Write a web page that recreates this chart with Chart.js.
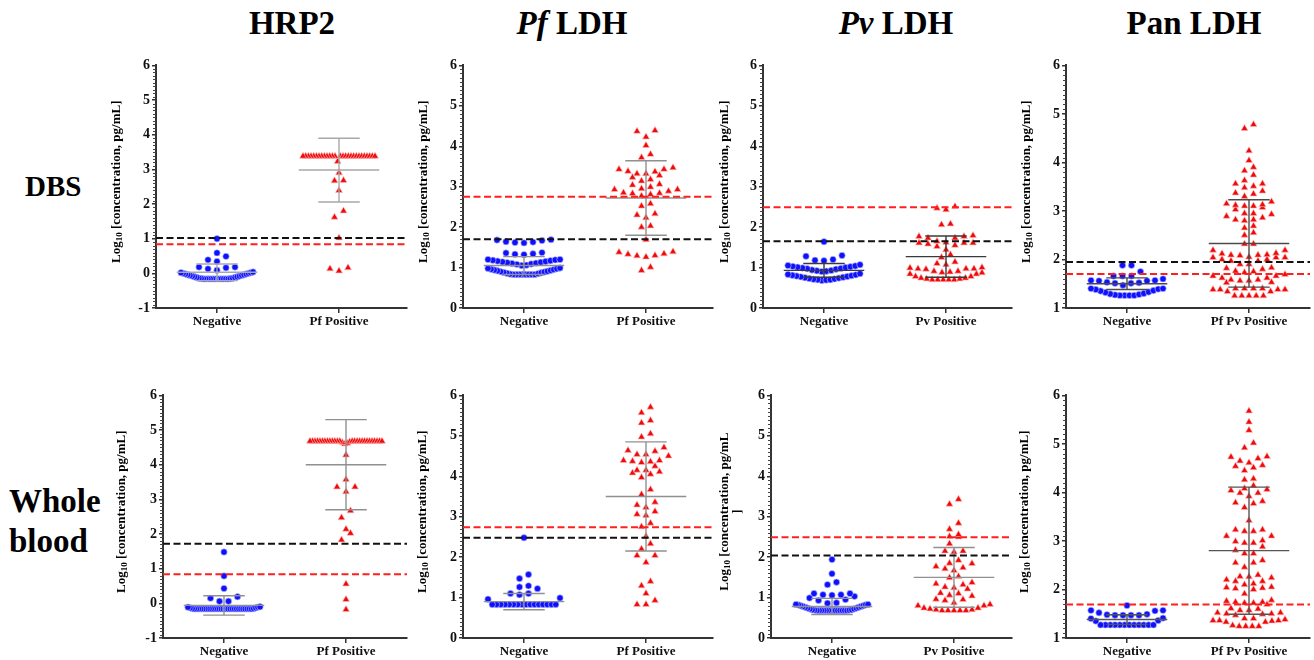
<!DOCTYPE html>
<html>
<head>
<meta charset="utf-8">
<script src="https://cdn.jsdelivr.net/npm/chart.js@4.4.1/dist/chart.umd.min.js"></script>
<style>
  body { margin: 0; width: 1314px; height: 660px; background: #fff; position: relative; overflow: hidden;
         font-family: "Liberation Serif", "Times New Roman", serif; }
  canvas { position: absolute; }
  .lbl { position: absolute; font-weight: bold; line-height: 1; white-space: nowrap; color: #000; }
  .col { font-size: 33px; top: 7px; transform: translateX(-50%); }
</style>
</head>
<body>
<div class="lbl col" style="left:292px">HRP2</div>
<div class="lbl col" style="left:572px"><i>Pf</i> LDH</div>
<div class="lbl col" style="left:896px"><i>Pv</i> LDH</div>
<div class="lbl col" style="left:1194px">Pan LDH</div>
<div class="lbl" style="left:25px;top:172px;font-size:29px">DBS</div>
<div class="lbl" style="left:9px;top:485px;font-size:33px">Whole</div>
<div class="lbl" style="left:9px;top:525px;font-size:33px">blood</div>

<script>
// categories
const catsPf = ['Negative', 'Pf Positive'];
const catsPv = ['Negative', 'Pv Positive'];
const catsPan = ['Negative', 'Pf Pv Positive'];

// DBS - HRP2
const negHrpDbs = [1.0, 0.59, 0.49, 0.39, 0.34, 0.18, 0.18, 0.16, 0.13, 0.09,
  0.04, 0.02, 0.02, 0.0, 0.0, -0.02, -0.02, -0.04, -0.04, -0.06, -0.06, -0.08, -0.08, -0.1, -0.1,
  -0.12, -0.12, -0.14, -0.14, -0.15, -0.15,
  -0.16, -0.16, -0.16, -0.16, -0.16, -0.16, -0.16, -0.16, -0.16, -0.16, -0.16, -0.16];
const posHrpDbs = [3.38, 3.38, 3.38, 3.38, 3.38, 3.38, 3.38, 3.38, 3.38, 3.38, 3.38, 3.38, 3.38, 3.38,
  3.38, 3.38, 3.38, 3.38, 3.38, 3.38, 3.38, 3.38, 3.38, 3.38, 3.38, 3.38, 3.38,
  3.23, 2.9, 2.68, 2.67, 2.39, 1.8, 1.62, 1.02, 0.16, 0.13, 0.07];

// DBS - Pf LDH
const negPfDbs = [1.69, 1.68, 1.67, 1.64, 1.63, 1.62, 1.61,
  1.37, 1.36, 1.34, 1.33, 1.32,
  1.2, 1.2, 1.19, 1.18, 1.17, 1.16, 1.15, 1.14, 1.13, 1.12, 1.11, 1.1, 1.09, 1.08, 1.06, 1.05,
  0.99, 0.98, 0.97, 0.96, 0.95, 0.94, 0.93, 0.92, 0.91, 0.9, 0.89, 0.88, 0.87, 0.86, 0.85, 0.84,
  0.83, 0.83, 0.83, 0.83, 0.83, 0.83, 0.83, 0.83];
const posPfDbs = [4.39, 4.37, 4.23, 4.02, 3.80, 3.72, 3.43, 3.38, 3.32, 3.28, 3.32, 3.37, 3.43, 3.47,
  3.18, 3.06, 3.04, 3.14, 3.23, 2.95, 2.93, 2.84, 2.83, 2.85, 2.89, 2.93, 2.99, 2.77, 2.81,
  2.52, 2.58, 2.30, 2.23, 2.33, 2.03, 2.0, 1.69, 1.38, 1.33, 1.29, 1.26, 1.30, 1.34, 1.39, 0.93, 1.01];

// DBS - Pv LDH
const negPvDbs = [1.64, 1.30, 1.28, 1.20, 1.18, 1.17,
  1.07, 1.05, 1.04, 1.03, 1.02, 1.01, 1.0, 0.99, 0.98, 0.97, 0.96, 0.94, 0.93, 0.92, 0.91, 0.9,
  0.85, 0.83, 0.82, 0.81, 0.8, 0.79, 0.78, 0.77, 0.76, 0.75, 0.74, 0.73, 0.72, 0.71, 0.70, 0.70, 0.69, 0.68];
const posPvDbs = [2.51, 2.43, 2.47, 2.08, 2.06, 1.77, 1.73, 1.73, 1.77, 1.79, 1.62, 1.61, 1.52, 1.58,
  1.44, 1.55, 1.61, 1.61, 1.65, 1.32, 1.25, 1.07, 1.14, 1.10, 1.0, 0.97, 0.96, 0.91, 0.97, 0.97,
  0.99, 0.91, 0.88, 0.84, 0.78, 0.74, 0.72, 0.70, 0.70, 0.70, 0.70, 0.70, 0.72, 0.74, 0.78, 0.84, 0.87, 0.89];

// DBS - Pan LDH
const negPanDbs = [1.88, 1.88, 1.75, 1.66, 1.66, 1.66,
  1.60, 1.57, 1.57, 1.56, 1.56, 1.53, 1.52, 1.51, 1.51, 1.47,
  1.40, 1.40, 1.39, 1.38, 1.36, 1.35, 1.33, 1.32, 1.30, 1.29, 1.28, 1.27, 1.26, 1.26, 1.26, 1.26];
const posPanDbs = [4.78, 4.70, 4.24, 4.04, 3.90, 3.83, 3.74, 3.63, 3.56, 3.56, 3.48, 3.51, 3.41, 3.35,
  3.30, 3.37, 3.15, 3.12, 3.19, 3.13, 3.10, 3.07, 3.10, 3.03, 2.95, 2.93, 2.95, 2.89, 2.86, 2.80,
  2.82, 2.82, 2.69, 2.65, 2.55, 2.50, 2.32, 2.32, 2.19, 2.10, 2.13, 2.09, 2.08, 2.09, 2.12, 2.19,
  2.04, 2.04, 1.97, 2.0, 2.0, 1.97, 2.05, 2.04, 1.90, 1.82, 1.75, 1.90, 1.83, 1.80, 1.73, 1.69,
  1.66, 1.66, 1.76, 1.62, 1.58, 1.56, 1.53, 1.52, 1.56, 1.58, 1.62, 1.40, 1.38, 1.38, 1.40, 1.40,
  1.38, 1.38, 1.40, 1.25, 1.25, 1.25, 1.25, 1.25, 1.34, 1.34];

// Whole blood - HRP2
const negHrpWb = [1.48, 0.79, 0.43, 0.19, 0.15, 0.06, 0.06,
  -0.1, -0.11, -0.11, -0.13, -0.13, -0.15, -0.15,
  -0.16, -0.16, -0.16, -0.16, -0.16, -0.16, -0.16, -0.16, -0.16, -0.16, -0.16, -0.16, -0.16, -0.16,
  -0.16, -0.16, -0.16, -0.16, -0.16, -0.16, -0.16, -0.16, -0.16, -0.16, -0.16, -0.16, -0.16, -0.16];
const posHrpWb = [4.68, 4.68, 4.68, 4.68, 4.68, 4.68, 4.68, 4.68, 4.68, 4.68, 4.68, 4.68, 4.68,
  4.68, 4.68, 4.68, 4.68, 4.68, 4.68, 4.68, 4.68, 4.68, 4.68, 4.68, 4.68, 4.68,
  4.66, 4.64, 4.62, 4.60, 4.28, 3.57, 3.36, 3.36, 3.22, 2.67, 2.47, 2.14, 2.02, 1.83, 0.56, 0.11, -0.18];

// Whole blood - Pf LDH
const negPfWb = [2.48, 1.57, 1.47, 1.29, 1.26, 1.22, 1.10, 1.10, 1.07, 0.99, 0.96,
  0.83, 0.83, 0.83, 0.83, 0.83, 0.83, 0.83, 0.83, 0.83, 0.83, 0.83, 0.83, 0.83, 0.83, 0.83, 0.83];
const posPfWb = [5.71, 5.57, 5.32, 5.38, 5.05, 4.97, 4.64, 4.54, 4.50, 4.62, 4.71, 4.39, 4.36, 4.34,
  4.54, 4.25, 4.37, 4.39, 4.15, 4.08, 3.97, 4.05, 4.11, 4.15, 3.67, 3.55, 3.36, 3.23, 3.29, 3.13,
  3.06, 3.03, 2.84, 2.75, 2.51, 2.33, 2.20, 2.04, 2.04, 1.87, 1.40, 1.29, 1.10, 0.93, 0.83, 0.83];

// Whole blood - Pv LDH
const negPvWb = [1.94, 1.59, 1.38, 1.32, 1.10, 1.10, 1.07, 1.07, 1.06,
  1.03, 0.99, 0.95, 0.93, 0.87, 0.86,
  0.83, 0.83, 0.82, 0.82, 0.8, 0.8, 0.78, 0.78, 0.76, 0.76, 0.74, 0.74, 0.72, 0.72, 0.7, 0.7, 0.69, 0.69,
  0.68, 0.68, 0.68, 0.68, 0.68, 0.68, 0.68, 0.68, 0.68, 0.68, 0.68, 0.68, 0.68, 0.68];
const posPvWb = [3.43, 3.31, 2.84, 2.69, 2.56, 2.50, 2.51, 2.33, 2.15, 2.13, 2.15, 1.92, 1.84, 1.85,
  1.77, 1.74, 1.71, 1.67, 1.52, 1.49, 1.34, 1.26, 1.32, 1.37, 1.21, 1.24, 1.10, 1.04, 1.11, 1.06,
  0.95, 0.93, 0.96, 0.87, 0.80, 0.74, 0.72, 0.70, 0.70, 0.68, 0.68, 0.68, 0.68, 0.68, 0.74, 0.80, 0.83];

// Whole blood - Pan LDH
const negPanWb = [1.67, 1.57, 1.57, 1.56, 1.52, 1.49, 1.48, 1.47, 1.47, 1.47, 1.47,
  1.41, 1.40, 1.36, 1.35,
  1.27, 1.27, 1.27, 1.27, 1.27, 1.27, 1.27, 1.27, 1.27, 1.27, 1.27, 1.27];
const posPanWb = [5.68, 5.45, 5.28, 5.02, 4.92, 4.70, 4.56, 4.51, 4.65, 4.73, 4.74, 4.61, 4.54, 4.45,
  4.26, 4.28, 4.08, 4.04, 3.99, 4.14, 3.92, 3.99, 4.06, 3.79, 3.69, 3.77, 3.82, 3.42, 3.23, 3.20,
  3.20, 3.23, 3.10, 3.01, 2.96, 2.96, 2.88, 2.99, 3.10, 2.81, 2.74, 2.74, 2.60, 2.55, 2.55, 2.46,
  2.30, 2.24, 2.17, 2.10, 2.17, 2.20, 2.27, 2.26, 2.03, 2.0, 2.04, 1.91, 2.12, 2.02, 2.05, 1.76,
  1.74, 1.69, 1.72, 1.72, 1.74, 1.78, 1.61, 1.57, 1.52, 1.50, 1.47, 1.49, 1.50, 1.52, 1.57, 1.60,
  1.40, 1.36, 1.35, 1.33, 1.36, 1.33, 1.36, 1.38, 1.40, 1.26, 1.24, 1.24, 1.24, 1.24];

// mean and SD for [negative, positive]
const statsHrpDbs = [[0.03, 0.24], [2.98, 0.92]];
const statsPfDbs = [[1.05, 0.22], [2.72, 0.92]];
const statsPvDbs = [[0.93, 0.17], [1.27, 0.51]];
const statsPanDbs = [[1.50, 0.12], [2.33, 0.90]];
const statsHrpWb = [[-0.06, 0.28], [4.00, 1.30]];
const statsPfWb = [[0.90, 0.20], [3.50, 1.35]];
const statsPvWb = [[0.78, 0.20], [1.50, 0.74]];
const statsPanWb = [[1.38, 0.10], [2.80, 1.31]];

// cut-off lines [red, black]
const cutHrpDbs = [0.84, 1.02];
const cutPfDbs = [2.75, 1.70];
const cutPvDbs = [2.49, 1.65];
const cutPanDbs = [1.70, 1.95];
const cutHrpWb = [0.84, 1.72];
const cutPfWb = [2.74, 2.48];
const cutPvWb = [2.49, 2.04];
const cutPanWb = [1.69, null];

const CAT_PX = 122;
const FONT = '"Liberation Serif", "Times New Roman", serif';

const panels = [
  { neg: negHrpDbs, pos: posHrpDbs, stats: statsHrpDbs, cut: cutHrpDbs, cats: catsPf, yMin: -1,
    axisX: 156, top: 65, bottom: 308, right: 407, lineCol: '#a8a8a8', titleDx: -39 },
  { neg: negPfDbs, pos: posPfDbs, stats: statsPfDbs, cut: cutPfDbs, cats: catsPf, yMin: 0,
    axisX: 463, top: 65, bottom: 308, right: 713, lineCol: '#909090', titleDx: -39 },
  { neg: negPvDbs, pos: posPvDbs, stats: statsPvDbs, cut: cutPvDbs, cats: catsPv, yMin: 0,
    axisX: 763, top: 65, bottom: 308, right: 1012, lineCol: '#3a3a3a', titleDx: -38 },
  { neg: negPanDbs, pos: posPanDbs, stats: statsPanDbs, cut: cutPanDbs, cats: catsPan, yMin: 1,
    axisX: 1066, top: 65, bottom: 308, right: 1310, lineCol: '#4a4a4a', titleDx: -39 },
  { neg: negHrpWb, pos: posHrpWb, stats: statsHrpWb, cut: cutHrpWb, cats: catsPf, yMin: -1,
    axisX: 163, top: 395, bottom: 638, right: 407, lineCol: '#909090', titleDx: -41 },
  { neg: negPfWb, pos: posPfWb, stats: statsPfWb, cut: cutPfWb, cats: catsPf, yMin: 0,
    axisX: 463, top: 395, bottom: 638, right: 713, lineCol: '#909090', titleDx: -40 },
  { neg: negPvWb, pos: posPvWb, stats: statsPvWb, cut: cutPvWb, cats: catsPv, yMin: 0,
    axisX: 771, top: 395, bottom: 638, right: 1012, lineCol: '#909090', titleDx: -46, split: true },
  { neg: negPanWb, pos: posPanWb, stats: statsPanWb, cut: cutPanWb, cats: catsPan, yMin: 1,
    axisX: 1066, top: 395, bottom: 638, right: 1310, lineCol: '#555555', titleDx: -41 },
];

// GraphPad-like scatter: bin by rows, spread each row around the group centre
function swarm(vals, center, yScale, pxPerCat) {
  const rowH = 7, gap = 9, maxW = 72;
  const pts = vals.map(v => ({ v, py: yScale.getPixelForValue(v) })).sort((a, b) => a.v - b.v);
  const rows = [];
  let cur = null;
  pts.forEach(p => {
    if (cur && cur.start - p.py <= rowH) cur.items.push(p);
    else { cur = { start: p.py, items: [p] }; rows.push(cur); }
  });
  const out = [];
  rows.forEach(r => {
    const n = r.items.length;
    const s = n > 1 ? Math.min(gap, maxW / (n - 1)) : 0;
    const slots = [];
    for (let k = 0; k < n; k++) slots.push((k - (n - 1) / 2) * s);
    slots.sort((a, b) => Math.abs(a) - Math.abs(b) || a - b);
    r.items.forEach((p, k) => out.push({ x: center + slots[k] / pxPerCat, y: p.v }));
  });
  return out;
}

const decoPlugin = {
  id: 'deco',
  afterDraw(chart, args, opts) {
    const ctx = chart.ctx, y = chart.scales.y, a = chart.chartArea;
    ctx.save();
    // minor ticks
    ctx.strokeStyle = '#444';
    ctx.lineWidth = 1;
    for (let i = Math.round(y.min * 10); i <= Math.round(y.max * 10); i++) {
      if (i % 10 === 0) continue;
      const py = Math.round(y.getPixelForValue(i / 10)) + 0.5;
      ctx.beginPath(); ctx.moveTo(a.left - 3, py); ctx.lineTo(a.left, py); ctx.stroke();
    }
    // axis title with subscript
    ctx.translate(a.left + opts.dx, (a.top + a.bottom) / 2 - 5);
    ctx.rotate(-Math.PI / 2);
    ctx.fillStyle = '#000';
    ctx.textBaseline = 'middle';
    const tail = opts.split ? ' [concentration, pg/mL' : ' [concentration, pg/mL]';
    const parts = [['Log', 13, 0], ['10', 9, 3], [tail, 13, 0]];
    let total = 0;
    parts.forEach(p => { ctx.font = `bold ${p[1]}px ${FONT}`; total += ctx.measureText(p[0]).width; });
    let x = -total / 2;
    parts.forEach(p => {
      ctx.font = `bold ${p[1]}px ${FONT}`;
      ctx.fillText(p[0], x, p[2]);
      x += ctx.measureText(p[0]).width;
    });
    if (opts.split) {
      ctx.font = `bold 13px ${FONT}`;
      ctx.textAlign = 'center';
      ctx.fillText(']', 0, 13);
    }
    ctx.restore();
  }
};

function seg(x0, x1, y0, y1, color, width, dash) {
  return {
    type: 'line', data: [{ x: x0, y: y0 }, { x: x1, y: y1 }],
    borderColor: color, borderWidth: width, borderDash: dash || [],
    pointRadius: 0, showLine: true, fill: false, clip: false
  };
}

function makePanel(p) {
  const W = p.right - p.axisX + 66, H = p.bottom - p.top + 40;
  const cv = document.createElement('canvas');
  cv.width = W; cv.height = H;
  cv.style.left = (p.axisX - 60) + 'px';
  cv.style.top = (p.top - 10) + 'px';
  document.body.appendChild(cv);
  const xMax = -0.5 + (p.right - p.axisX) / CAT_PX;

  const datasets = [];
  // cut-off lines
  if (p.cut[0] != null) datasets.push(seg(-0.5, xMax, p.cut[0], p.cut[0], '#ff1f1f', 2, [7, 3.5]));
  if (p.cut[1] != null) datasets.push(seg(-0.5, xMax, p.cut[1], p.cut[1], '#111111', 2, [7, 3.5]));
  // mean and SD
  p.stats.forEach((s, g) => {
    const m = s[0], sd = s[1];
    datasets.push(seg(g - 0.33, g + 0.33, m, m, p.lineCol, 1.4));
    datasets.push(seg(g - 0.17, g + 0.17, m + sd, m + sd, p.lineCol, 1.4));
    datasets.push(seg(g - 0.17, g + 0.17, m - sd, m - sd, p.lineCol, 1.4));
    datasets.push(seg(g, g, m - sd, m + sd, p.lineCol, 1.4));
  });
  const iNeg = datasets.length;
  datasets.push({
    data: p.neg.map(v => ({ x: 0, y: v })), pointStyle: 'circle', pointRadius: 3.2,
    backgroundColor: '#1010ff', borderColor: 'rgba(190,200,255,0.9)', borderWidth: 0.7, showLine: false
  });
  const iPos = datasets.length;
  datasets.push({
    data: p.pos.map(v => ({ x: 1, y: v })), pointStyle: 'triangle', pointRadius: 4,
    backgroundColor: '#ee0a0a', borderColor: 'rgba(255,190,190,0.9)', borderWidth: 0.7, showLine: false
  });

  const tickFont = { family: FONT, weight: 'bold' };
  const chart = new Chart(cv, {
    type: 'scatter',
    data: { datasets },
    plugins: [decoPlugin],
    options: {
      responsive: false, animation: false, events: [],
      layout: { padding: { top: 10, right: 6, left: 0, bottom: 0 } },
      plugins: { legend: { display: false }, tooltip: { enabled: false },
                 deco: { dx: p.titleDx, split: !!p.split } },
      scales: {
        x: {
          type: 'linear', min: -0.5, max: xMax,
          afterFit: s => { s.height = 30; },
          afterBuildTicks: s => { s.ticks = [{ value: 0 }, { value: 1 }]; },
          ticks: { callback: v => p.cats[v], font: { ...tickFont, size: 13 }, color: '#111',
                   padding: 1, maxRotation: 0, autoSkip: false },
          grid: { drawOnChartArea: false, drawTicks: true, tickLength: 5, color: '#333', lineWidth: 1.5 },
          border: { color: '#333', width: 2 }
        },
        y: {
          min: p.yMin, max: 6,
          afterFit: s => { s.width = 60; },
          ticks: { stepSize: 1, font: { ...tickFont, size: 14 }, color: '#111', padding: 2 },
          grid: { drawOnChartArea: false, drawTicks: true, tickLength: 4, color: '#333', lineWidth: 1.5 },
          border: { color: '#333', width: 2 }
        }
      }
    }
  });

  const xs = chart.scales.x;
  const pxCat = xs.getPixelForValue(1) - xs.getPixelForValue(0);
  chart.data.datasets[iNeg].data = swarm(p.neg, 0, chart.scales.y, pxCat);
  chart.data.datasets[iPos].data = swarm(p.pos, 1, chart.scales.y, pxCat);
  chart.update('none');
}

panels.forEach(makePanel);
</script>
</body>
</html>
